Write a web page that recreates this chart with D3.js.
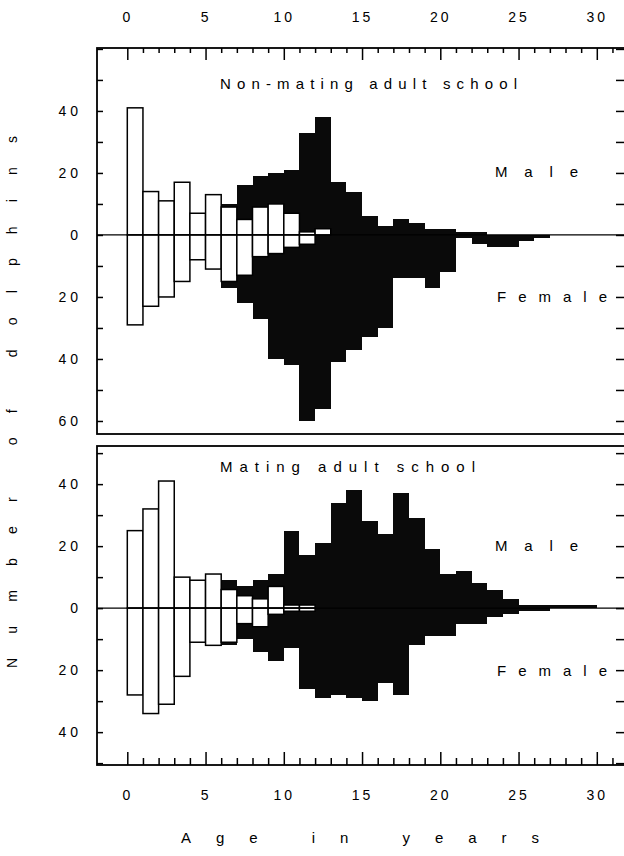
<!DOCTYPE html>
<html><head><meta charset="utf-8">
<script src="https://cdn.jsdelivr.net/npm/d3@7"></script>
<style>body{margin:0;background:#fff}svg{display:block}</style>
</head><body>
<svg id="c" width="624" height="856"></svg>
<script>
// ---------- data ----------
const ages = d3.range(0, 31);
const ageTicks = d3.range(0, 32);
const ageLabels = [0, 5, 10, 15, 20, 25, 30];
const panelTitles = ["Non-mating adult school", "Mating adult school"];
const sexLabels = ["Male", "Female"];
const xTitle = "Age in years";
const yTitle = "Number of dolphins";
const yTickValues = [-60, -50, -40, -30, -20, -10, 0, 10, 20, 30, 40, 50, 60];
const yLabelValues = [-60, -40, -20, 0, 20, 40];

// Non-mating adult school (total = black, immature = white)
const nmMaleTotal   = [41,14,11,17,7,13,10,16,19,20,21,33,38,17,14,6,3,5,4,2,2,1,1,0,0,0,0,0,0,0,0];
const nmMaleImm     = [41,14,11,17,7,13,9,5,9,10,7,1,2,0,0,0,0,0,0,0,0,0,0,0,0,0,0,0,0,0,0];
const nmFemaleTotal = [29,23,20,15,8,11,17,22,27,40,42,60,56,41,37,33,30,14,14,17,12,1,3,4,4,2,1,0,0,0,0];
const nmFemaleImm   = [29,23,20,15,8,11,15,13,7,6,4,3,0,0,0,0,0,0,0,0,0,0,0,0,0,0,0,0,0,0,0];

// Mating adult school
const mMaleTotal   = [25,32,41,10,9,11,9,7,9,11,25,17,21,34,38,28,24,37,29,19,11,12,8,6,3,1,1,1,1,1,0];
const mMaleImm     = [25,32,41,10,9,11,6,4,3,7,1,1,0,0,0,0,0,0,0,0,0,0,0,0,0,0,0,0,0,0,0];
const mFemaleTotal = [28,34,31,22,11,12,12,10,14,17,13,26,29,28,29,30,24,28,12,9,9,5,5,3,2,1,1,0,0,0,0];
const mFemaleImm   = [28,34,31,22,11,12,11,5,6,2,1,1,0,0,0,0,0,0,0,0,0,0,0,0,0,0,0,0,0,0,0];

// ---------- layout ----------
const FONT = "'Liberation Sans', Arial, sans-serif";
const LEFT = 97, RIGHT = 626;
const svg = d3.select("#c");
svg.append("rect").attr("width", 624).attr("height", 856).attr("fill", "#fff");

const x = d3.scaleLinear().domain([0, 30]).range([127.3, 596.8]);

const panels = [
  { title: panelTitles[0], mt: nmMaleTotal, mi: nmMaleImm, ft: nmFemaleTotal, fi: nmFemaleImm,
    top: 48, bottom: 434, dom: [-64.2, 60.3], titleY: 89, titleW: 297, maleY: 177, femY: 302, axis: "top" },
  { title: panelTitles[1], mt: mMaleTotal, mi: mMaleImm, ft: mFemaleTotal, fi: mFemaleImm,
    top: 446, bottom: 765, dom: [-50.6, 52.3], titleY: 472, titleW: 255, maleY: 551, femY: 676, axis: "bottom" }
];

function spacedText(sel, str, x0, y0, size, len) {
  return sel.append("text").attr("x", x0).attr("y", y0).text(str)
    .attr("font-family", FONT).attr("font-size", size).attr("fill", "#000")
    .attr("textLength", len).attr("lengthAdjust", "spacing");
}

panels.forEach(p => {
  const y = d3.scaleLinear().domain(p.dom).range([p.bottom, p.top]);
  const g = svg.append("g");
  const bw = a => x(a + 1) - x(a);

  // black: total (mature part)
  const blk = g.append("g").attr("shape-rendering", "crispEdges").attr("fill", "#0a0a0a");
  blk.selectAll(".bm").data(ages.filter(a => p.mt[a] > p.mi[a])).join("rect")
    .attr("x", a => x(a)).attr("width", bw)
    .attr("y", a => y(p.mt[a])).attr("height", a => y(0) - y(p.mt[a]));
  blk.selectAll(".bf").data(ages.filter(a => p.ft[a] > p.fi[a])).join("rect")
    .attr("x", a => x(a)).attr("width", bw)
    .attr("y", y(0)).attr("height", a => y(-p.ft[a]) - y(0));

  // white: immature
  const wht = g.append("g").attr("fill", "#fff").attr("stroke", "#000").attr("stroke-width", 1.5);
  wht.selectAll(".wm").data(ages.filter(a => p.mi[a] > 0)).join("rect")
    .attr("x", a => x(a)).attr("width", bw)
    .attr("y", a => y(p.mi[a])).attr("height", a => y(0) - y(p.mi[a]));
  wht.selectAll(".wf").data(ages.filter(a => p.fi[a] > 0)).join("rect")
    .attr("x", a => x(a)).attr("width", bw)
    .attr("y", y(0)).attr("height", a => y(-p.fi[a]) - y(0));

  // zero line
  g.append("line").attr("x1", LEFT).attr("x2", RIGHT).attr("y1", y(0)).attr("y2", y(0))
    .attr("stroke", "#000").attr("stroke-width", 1.2);

  // frame
  g.append("rect").attr("x", LEFT).attr("y", p.top).attr("width", RIGHT - LEFT).attr("height", p.bottom - p.top)
    .attr("fill", "none").attr("stroke", "#000").attr("stroke-width", 1.8);

  // left axis (ticks inward)
  const vals = yTickValues.filter(v => v >= p.dom[0] && v <= p.dom[1]);
  const la = g.append("g").attr("transform", `translate(${LEFT},0)`)
    .call(d3.axisLeft(y).tickValues(vals).tickSize(-6).tickPadding(15)
      .tickFormat(v => yLabelValues.includes(v) ? String(Math.abs(v)) : ""));
  la.select(".domain").remove();
  la.selectAll("line").attr("stroke-width", 1.5);
  la.selectAll("text").attr("font-family", FONT).attr("font-size", 14).attr("fill", "#000")
    .style("letter-spacing", "4px");

  // right axis (ticks inward)
  const ra = g.append("g").attr("transform", `translate(${RIGHT},0)`)
    .call(d3.axisRight(y).tickValues(vals).tickSize(-10).tickFormat(""));
  ra.select(".domain").remove();
  ra.selectAll("line").attr("stroke-width", 1.5);

  // age axis (top for panel 1, bottom for panel 2)
  const isTop = p.axis === "top";
  const mk = isTop ? d3.axisTop : d3.axisBottom;
  const yPos = isTop ? p.top : p.bottom;
  const minor = g.append("g").attr("transform", `translate(0,${yPos})`)
    .call(mk(x).tickValues(ageTicks.filter(a => a % 5 !== 0)).tickSize(isTop ? -5 : -7).tickFormat(""));
  minor.select(".domain").remove();
  const major = g.append("g").attr("transform", `translate(0,${yPos})`)
    .call(mk(x).tickValues(ageLabels).tickSize(isTop ? -12 : -13).tickPadding(isTop ? 26 : 25).tickFormat(d3.format("d")));
  major.select(".domain").remove();
  minor.selectAll("line").attr("stroke-width", 1.5);
  major.selectAll("line").attr("stroke-width", 1.5);
  major.selectAll("text").attr("font-family", FONT).attr("font-size", 14).attr("fill", "#000")
    .style("letter-spacing", "3px");

  // titles and sex labels
  spacedText(g, p.title, 220, p.titleY, 15, p.titleW);
  spacedText(g, sexLabels[0], 495, p.maleY, 15, 83);
  spacedText(g, sexLabels[1], 497, p.femY, 15, 110);
});

// axis titles
spacedText(svg, xTitle, 181, 843, 15, 358);
svg.append("text").attr("transform", "translate(17,668) rotate(-90)").text(yTitle)
  .attr("font-family", FONT).attr("font-size", 14).attr("fill", "#000")
  .attr("textLength", 532).attr("lengthAdjust", "spacing");
</script>
</body></html>
